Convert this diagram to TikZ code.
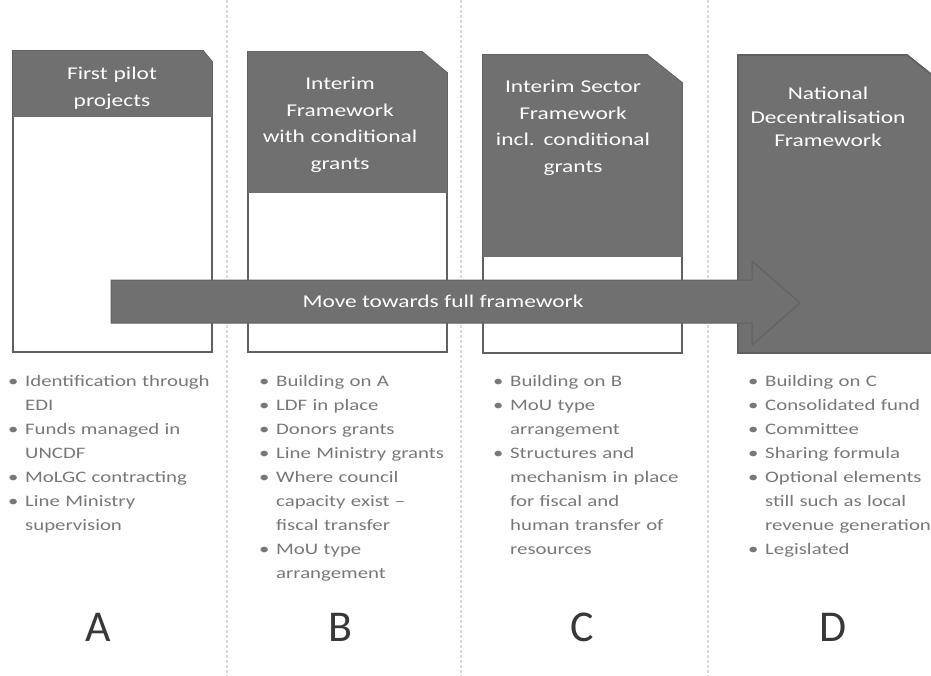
\documentclass[tikz,border=0pt]{standalone}
\usepackage{fontspec}
\setmainfont{Carlito}[FakeStretch=1.3]
\newfontfamily\letterfont{Carlito}
\definecolor{boxgray}{RGB}{112,112,112}
\definecolor{edgegray}{RGB}{96,96,96}
\definecolor{txtgray}{RGB}{120,120,120}
\newcommand{\bitem}[1]{\hangindent=17pt\hangafter=1\noindent\makebox[17pt][l]{\textbullet}#1\par}

\begin{document}
\begin{tikzpicture}[x=1pt, y=-1pt,
    frame/.style={draw=edgegray, line width=1.8pt, fill=white, line join=miter},
    headfill/.style={fill=boxgray},
    head/.style={anchor=base, inner sep=0pt, text width=200pt, align=center, text=white, font=\fontsize{18}{26.5}\selectfont},
    bullets/.style={anchor=base west, inner sep=0pt, text width=240pt, align=left, text=txtgray, font=\fontsize{16}{24}\selectfont},
    letter/.style={inner sep=0pt, text=black!78, font=\letterfont\fontsize{44}{44}\selectfont}]
            \useasboundingbox (0,0) rectangle (931,676);
            \clip (0,0) rectangle (931,676);
            \foreach \x in {227, 461, 708} {
                \draw[gray!30, line width=1.3pt, dash pattern=on 3pt off 2pt] (\x,0) -- (\x,676);
            }
            % framework boxes
            \draw[frame] (13,51) -- (203,51) -- (212,62) -- (212,352) -- (13,352) -- cycle;
            \fill[headfill] (13,51) -- (203,51) -- (212,62) -- (212,117) -- (13,117) -- cycle;
            \draw[frame] (248,52) -- (422,52) -- (447,73) -- (447,352) -- (248,352) -- cycle;
            \fill[headfill] (248,52) -- (422,52) -- (447,73) -- (447,193) -- (248,193) -- cycle;
            \draw[frame] (483,55) -- (647,55) -- (682,83) -- (682,353) -- (483,353) -- cycle;
            \fill[headfill] (483,55) -- (647,55) -- (682,83) -- (682,257) -- (483,257) -- cycle;
            \draw[frame, fill=boxgray] (738,55) -- (907,55) -- (947,87) -- (947,353) -- (738,353) -- cycle;
            \node[head] (headA) at (112,80) {First pilot\\projects};
            \node[head] (headB) at (340,90) {Interim\\Framework\\with conditional\\grants};
            \node[head] (headC) at (573,93) {Interim Sector\\Framework\\incl. conditional\\grants};
            \node[head, font=\fontsize{18}{23.5}\selectfont] (headD) at (828,100) {National\\Decentralisation\\Framework};
            % arrow
            \draw[fill=boxgray, draw=black!62, line width=1pt] (111,280) -- (752,280) -- (752,261) -- (800,303)
                -- (752,345) -- (752,323) -- (111,323) -- cycle;
            \node[text=white, inner sep=0pt, font=\fontsize{18}{20}\selectfont] (move) at (443,301) {Move towards full framework};
            % bullet lists
            \node[bullets] (listA) at (8,386) {\bitem{Identification through\break EDI}
                \bitem{Funds managed in\break UNCDF}\bitem{MoLGC contracting}\bitem{Line Ministry\break supervision}};
            \node[bullets] (listB) at (259,386) {\bitem{Building on A}\bitem{LDF in place}\bitem{Donors grants}
                \bitem{Line Ministry grants}\bitem{Where council\break capacity exist --\break fiscal transfer}
                \bitem{MoU type\break arrangement}};
            \node[bullets] (listC) at (493,386) {\bitem{Building on B}\bitem{MoU type\break arrangement}
                \bitem{Structures and\break mechanism in place\break for fiscal and\break human transfer of\break resources}};
            \node[bullets] (listD) at (748,386) {\bitem{Building on C}\bitem{Consolidated fund}\bitem{Committee}
                \bitem{Sharing formula}\bitem{Optional elements\break still such as local\break revenue generation}
                \bitem{Legislated}};
            \foreach \l/\x in {A/98, B/340, C/582, D/833} {
                \node[letter] (lab\l) at (\x,627) {\l};
            }
        \end{tikzpicture}
\end{document}
